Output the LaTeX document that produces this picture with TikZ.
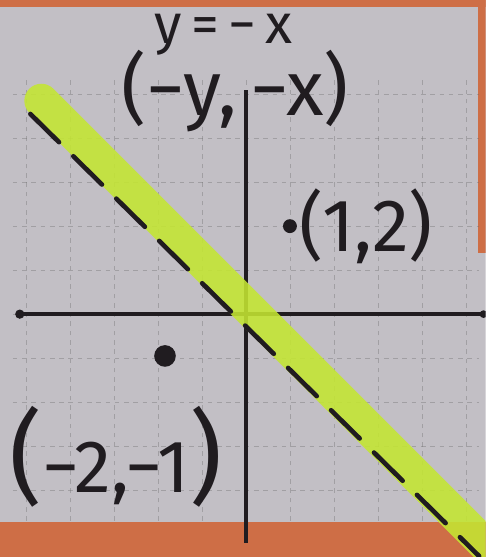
\documentclass[tikz,border=0pt]{standalone}
\usepackage{fontspec}
\setmainfont{Fira Sans}
\usetikzlibrary{positioning}

\definecolor{paper}{RGB}{194,191,197}
\definecolor{tape}{RGB}{206,110,70}
\definecolor{marker}{RGB}{196,230,50}
\definecolor{ink}{RGB}{32,28,32}

\newcommand{\bigparen}[1]{{\fontsize{66}{66}\selectfont #1}}

\begin{document}
\begin{tikzpicture}[x=1cm, y=1cm,
    gridline/.style={dash pattern=on 3pt off 3pt, black!60, line width=0.5pt, opacity=0.35},
    axis/.style={ink, line width=2.2pt},
    hand/.style={ink, inner sep=0pt, font=\fontsize{48}{48}\selectfont},
    dot/.style={circle, fill=ink, inner sep=0pt, minimum size=#1}]
    \useasboundingbox (-5.59,-5.52) rectangle (5.45,7.14);
    \clip (-5.59,-5.52) rectangle (5.45,7.14);

    % paper and tape
    \fill[paper] (-5.59,-5.52) rectangle (5.45,7.14);
    \fill[tape] (-5.59,6.98) rectangle (5.45,7.14);
    \fill[tape] (5.27,1.4) rectangle (5.45,7.14);
    \fill[tape] (-5.59,-4.72) rectangle (5.45,-5.52);

    % grid
    \foreach \gx in {-5,...,5}
        \draw[gridline] (\gx,-4.7) -- (\gx,5.4);
    \foreach \gy in {-4,...,5}
        \draw[gridline] (-5.3,\gy) -- (5.3,\gy);

    % axes
    \coordinate (xl) at (-5.14,0);
    \coordinate (xr) at (5.40,0);
    \coordinate (yt) at (0,5.09);
    \coordinate (yb) at (0,-5.2);
    \draw[axis] (xl) -- (xr);
    \draw[axis] (yt) -- (yb);
    \node[dot=6pt] (xldot) at (xl) {};
    \node[dot=5pt] (xrdot) at (xr) {};

    % highlighted line y=-x
    \coordinate (lt) at (-4.9,4.55);
    \coordinate (lb) at (5.3,-5.5);
    \draw[marker, line width=22pt, line cap=round, opacity=0.88, shift={(0.15,0.15)}] (-4.8,4.7) -- (5.6,-5.7);
    \draw[ink, line width=3pt, dash pattern=on 26pt off 13pt, line cap=round] (lt) -- (lb);

    % points
    \node[dot=9pt] (p12) at (1,2) {};
    \node[dot=14pt] (pm21) at (-1.84,-0.95) {};
    \node[hand, right=0.05 of p12] (l12) {(1,2)};
    \node[hand] (lm21) at (-2.95,-3.25) {\bigparen{(}−2,−1\bigparen{)}};

    % titles
    \node[hand, font=\fontsize{36}{36}\selectfont] (eq) at (-0.5,6.36) {y\,=\,−\,x};
    \node[hand, font=\fontsize{50}{50}\selectfont] (swap) at (-0.25,5.08) {(−y,\,−x)};
\end{tikzpicture}
\end{document}
